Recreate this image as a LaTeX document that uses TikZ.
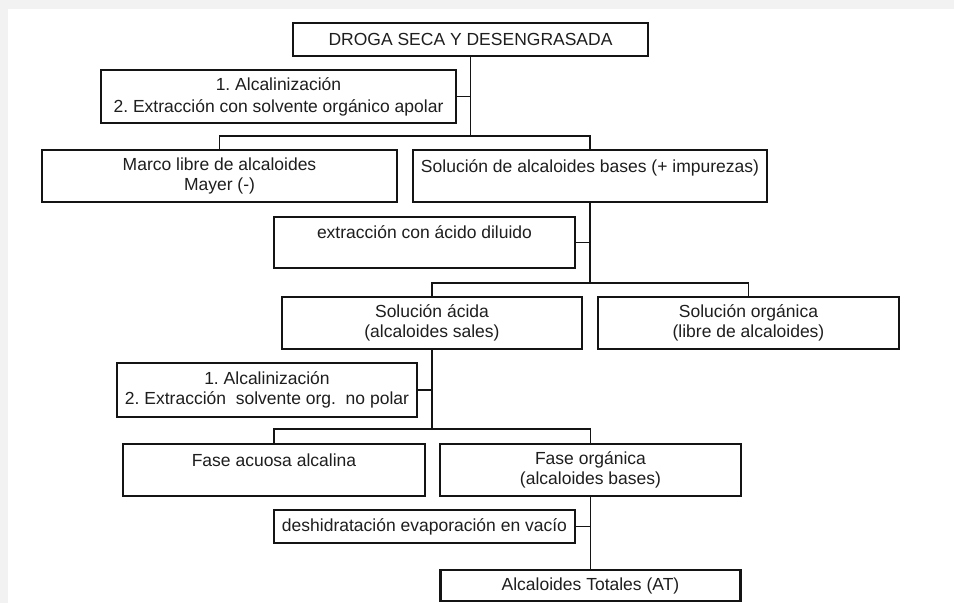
\documentclass[tikz,border=0pt]{standalone}
\usepackage{fontspec}
\setmainfont{Liberation Sans}
\frenchspacing
\definecolor{Pgray}{HTML}{F2F2F2}
\definecolor{Bline}{HTML}{141414}
\definecolor{Ttext}{HTML}{1E1E1E}
\tikzset{
  box/.style={draw=Bline,line width=2.2pt,fill=white,inner sep=0pt,align=center,
    text=Ttext,font=\fontsize{17.5}{20}\selectfont},
  link/.style={draw=Bline,line width=1.9pt}
}

\begin{document}
\begin{tikzpicture}[x=1pt,y=-1pt,line join=miter]
% ---- page ----
\fill[Pgray] (0,0) rectangle (954,603);
\fill[white] (8,9) rectangle (954,603);
\useasboundingbox (0,0) rectangle (954,603);

% ---- first extraction ----
\node[box,minimum width=355pt,minimum height=33pt] (droga) at (470.5,39.5)
  {DROGA SECA Y DESENGRASADA};
\node[box,minimum width=355pt,minimum height=53pt] (alc1) at (278.5,96.5)
  {1. Alcalinización\\[2pt]2. Extracción con solvente orgánico apolar};
\node[box,minimum width=355pt,minimum height=52pt] (marco) at (219.5,176)
  {Marco libre de alcaloides\\Mayer (-)};
\node[box,minimum width=354pt,minimum height=52pt] (solbas) at (590,176)
  {Solución de alcaloides bases (+ impurezas)\\\mbox{}};

% ---- acid extraction ----
\node[box,minimum width=301pt,minimum height=51pt] (extr) at (424.5,242.5)
  {extracción con ácido diluido\\\mbox{}};
\node[box,minimum width=300pt,minimum height=52pt] (solacida) at (432,323)
  {Solución ácida\\(alcaloides sales)};
\node[box,minimum width=301pt,minimum height=52pt] (solorg) at (748.5,323)
  {Solución orgánica\\(libre de alcaloides)};

% ---- second extraction ----
\node[box,minimum width=300pt,minimum height=54pt] (alc2) at (267,390)
  {1. Alcalinización\\2. Extracción\ \ solvente org.\ \ no polar};
\node[box,minimum width=302pt,minimum height=52pt] (acuosa) at (274,470)
  {Fase acuosa alcalina\\\mbox{}};
\node[box,minimum width=301pt,minimum height=52pt] (faseorg) at (590.5,470)
  {Fase orgánica\\(alcaloides bases)};
\node[box,minimum width=301pt,minimum height=33pt] (deshid) at (424.5,526.5)
  {deshidratación evaporación en vacío};
\node[box,minimum width=300pt,minimum height=31pt] (totales) at (590.5,585.5)
  {Alcaloides Totales (AT)};

% ---- forks ----
\coordinate (fork1) at (470.5,136);
\coordinate (fork2) at (590,283);
\coordinate (fork3) at (432,429);

\draw[link] (droga.south) -- (fork1);
\draw[link] (alc1.east) -- (alc1.east -| fork1);
\draw[link] (marco.north) |- (fork1) -| (solbas.north);

\draw[link] (solbas.south) -- (fork2);
\draw[link] (extr.east) -- (extr.east -| fork2);
\draw[link] (solacida.north) |- (fork2) -| (solorg.north);

\draw[link] (solacida.south) -- (fork3);
\draw[link] (alc2.east) -- (alc2.east -| fork3);
\draw[link] (acuosa.north) |- (fork3) -| (faseorg.north);

\draw[link] (faseorg.south) -- (totales.north);
\draw[link] (deshid.east) -- (deshid.east -| totales.north);
\end{tikzpicture}
\end{document}
